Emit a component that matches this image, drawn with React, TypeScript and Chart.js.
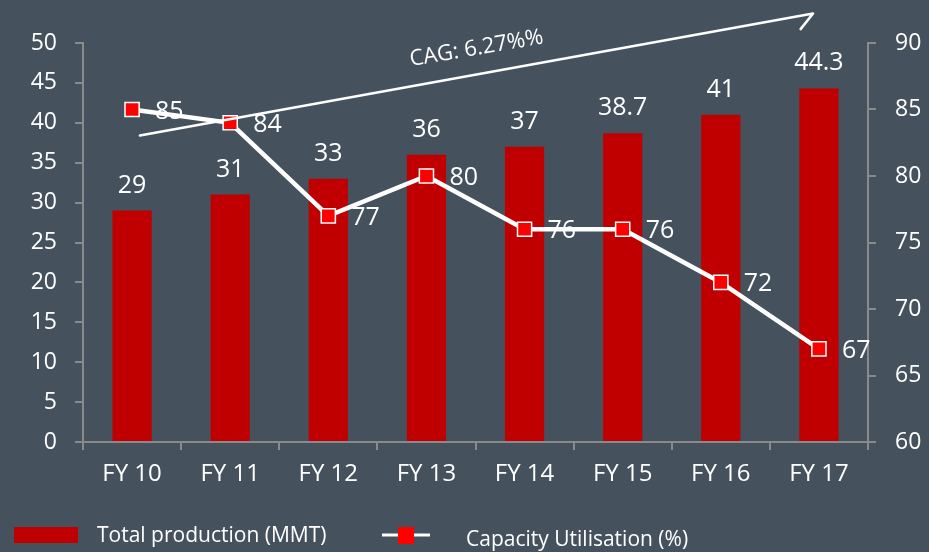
import React, { useEffect, useRef } from "react";
import { Chart, registerables } from "chart.js";

Chart.register(...registerables);

// ---- data ----
const categories = ["FY 10", "FY 11", "FY 12", "FY 13", "FY 14", "FY 15", "FY 16", "FY 17"];
const production = [29, 31, 33, 36, 37, 38.7, 41, 44.3];
const utilisation = [85, 84, 77, 80, 76, 76, 72, 67];
const productionLabels = ["29", "31", "33", "36", "37", "38.7", "41", "44.3"];
const utilisationLabels = ["85", "84", "77", "80", "76", "76", "72", "67"];
const leftAxis = { min: 0, max: 50, step: 5 };
const rightAxis = { min: 60, max: 90, step: 5 };
const productionName = "Total production (MMT)";
const utilisationName = "Capacity Utilisation (%)";
const cagText = "CAG: 6.27%%";
// arrow annotation in (category index, left-axis value)
const cagStart = [0.08, 38.4];
const cagEnd = [6.94, 53.7];

// ---- styles ----
const BG = "#45525D";
const BAR = "#C00000";
const MARKER = "#FF0000";
const AXIS = "#8A8A8A";
const TEXT = "#FFFFFF";
const FONT = "'Open Sans', 'DejaVu Sans', sans-serif";

export default function App() {
  const ref = useRef<HTMLCanvasElement | null>(null);

  useEffect(() => {
    if (!ref.current) return;

    const bgPlugin = {
      id: "bg",
      beforeDraw(chart: any) {
        const { ctx, width, height } = chart;
        ctx.save();
        ctx.fillStyle = BG;
        ctx.fillRect(0, 0, width, height);
        ctx.restore();
      },
    };

    const overlayPlugin = {
      id: "overlay",
      afterDraw(chart: any) {
        const ctx = chart.ctx;
        const xs = chart.scales.x;
        const ys = chart.scales.y;
        ctx.save();

        // bar labels
        const barMeta = chart.getDatasetMeta(1);
        ctx.fillStyle = TEXT;
        ctx.font = `25px ${FONT}`;
        ctx.textAlign = "center";
        ctx.textBaseline = "alphabetic";
        barMeta.data.forEach((el: any, i: number) => {
          ctx.fillText(productionLabels[i], el.x, el.y - 18);
        });

        // line labels
        const lineMeta = chart.getDatasetMeta(0);
        ctx.textAlign = "left";
        lineMeta.data.forEach((el: any, i: number) => {
          ctx.fillText(utilisationLabels[i], el.x + 23, el.y + 9);
        });

        // CAG arrow
        const x0 = xs.getPixelForValue(cagStart[0]);
        const y0 = ys.getPixelForValue(cagStart[1]);
        const x1 = xs.getPixelForValue(cagEnd[0]);
        const y1 = ys.getPixelForValue(cagEnd[1]);
        ctx.strokeStyle = TEXT;
        ctx.lineWidth = 2.5;
        ctx.lineCap = "round";
        ctx.beginPath();
        ctx.moveTo(x0, y0);
        ctx.lineTo(x1, y1);
        const ang = Math.atan2(y1 - y0, x1 - x0);
        const armLen = 20;
        const armAng = ang + Math.PI - 0.72;
        ctx.moveTo(x1, y1);
        ctx.lineTo(x1 + armLen * Math.cos(armAng), y1 + armLen * Math.sin(armAng));
        ctx.stroke();

        // CAG text
        ctx.save();
        const tx = x0 + (x1 - x0) * 0.5;
        const ty = y0 + (y1 - y0) * 0.5 - 26;
        ctx.translate(tx, ty);
        ctx.rotate(ang + 0.01);
        ctx.font = `22px ${FONT}`;
        ctx.textAlign = "center";
        ctx.textBaseline = "middle";
        ctx.fillStyle = TEXT;
        ctx.fillText(cagText, 0, 0);
        ctx.restore();

        // legend
        ctx.fillStyle = BAR;
        ctx.fillRect(14, 527, 64, 16);
        ctx.fillStyle = TEXT;
        ctx.font = `21px ${FONT}`;
        ctx.textAlign = "left";
        ctx.textBaseline = "middle";
        ctx.fillText(productionName, 97, 536);

        ctx.strokeStyle = TEXT;
        ctx.lineWidth = 3;
        ctx.lineCap = "butt";
        ctx.beginPath();
        ctx.moveTo(382, 535);
        ctx.lineTo(430, 535);
        ctx.stroke();
        ctx.fillStyle = MARKER;
        ctx.fillRect(398, 527, 16, 17);
        ctx.fillStyle = TEXT;
        ctx.fillText(utilisationName, 466, 540);

        ctx.restore();
      },
    };

    const chart = new Chart(ref.current, {
      data: {
        labels: categories,
        datasets: [
          {
            type: "line",
            label: utilisationName,
            data: utilisation,
            yAxisID: "y1",
            borderColor: "#FFFFFF",
            borderWidth: 4.5,
            pointStyle: "rect",
            pointRadius: 10,
            pointBackgroundColor: MARKER,
            pointBorderColor: "#FFFFFF",
            pointBorderWidth: 1.5,
            tension: 0,
            order: 0,
          },
          {
            type: "bar",
            label: productionName,
            data: production,
            yAxisID: "y",
            backgroundColor: BAR,
            barPercentage: 0.4,
            categoryPercentage: 1,
            order: 1,
          },
        ],
      } as any,
      options: {
        responsive: false,
        animation: false,
        layout: { padding: { top: 43, left: 0, right: 0, bottom: 0 } },
        plugins: {
          legend: { display: false },
          tooltip: { enabled: false },
        },
        scales: {
          x: {
            type: "category",
            offset: true,
            grid: {
              display: true,
              drawOnChartArea: false,
              drawTicks: true,
              tickLength: 8,
              color: AXIS,
              lineWidth: 2,
              offset: true,
            },
            border: { display: true, color: AXIS, width: 2 },
            ticks: { color: TEXT, font: { family: FONT, size: 24 }, padding: 10 },
            afterFit(s: any) {
              s.height = 110;
            },
          },
          y: {
            position: "left",
            min: leftAxis.min,
            max: leftAxis.max,
            grid: {
              display: true,
              drawOnChartArea: false,
              drawTicks: true,
              tickLength: 8,
              color: AXIS,
              lineWidth: 2,
            },
            border: { display: true, color: AXIS, width: 2 },
            ticks: { stepSize: leftAxis.step, color: TEXT, font: { family: FONT, size: 23 }, padding: 18 },
            afterFit(s: any) {
              s.width = 83;
            },
          },
          y1: {
            position: "right",
            min: rightAxis.min,
            max: rightAxis.max,
            grid: {
              display: true,
              drawOnChartArea: false,
              drawTicks: true,
              tickLength: 8,
              color: AXIS,
              lineWidth: 2,
            },
            border: { display: true, color: AXIS, width: 2 },
            ticks: { stepSize: rightAxis.step, color: TEXT, font: { family: FONT, size: 23 }, padding: 19 },
            afterFit(s: any) {
              s.width = 61;
            },
          },
        },
      } as any,
      plugins: [bgPlugin, overlayPlugin],
    });

    return () => chart.destroy();
  }, []);

  return (
    <div style={{ position: "absolute", left: 0, top: 0, width: 929, height: 552, background: BG }}>
      <canvas ref={ref} width={929} height={552} style={{ display: "block" }} />
    </div>
  );
}
